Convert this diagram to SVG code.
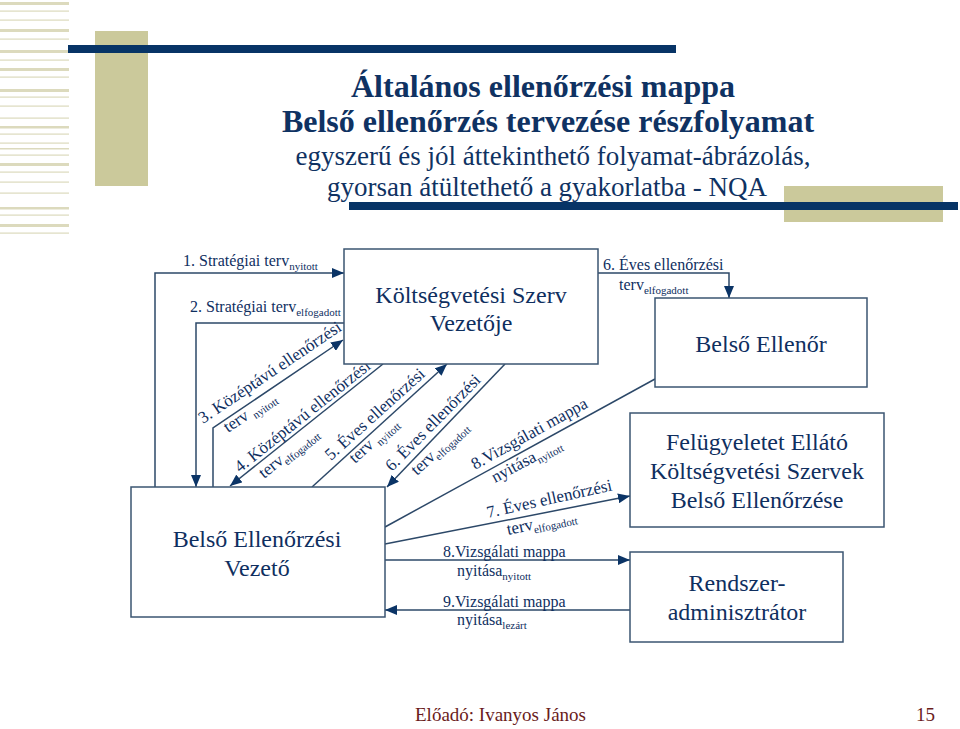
<svg xmlns="http://www.w3.org/2000/svg" width="960" height="729" viewBox="0 0 960 729">
<defs>
<marker id="ah" markerUnits="userSpaceOnUse" markerWidth="12" markerHeight="10" refX="12" refY="5" orient="auto">
<path d="M0,0 L12,5 L0,10 z" fill="#0b3466"/>
</marker>
<style>
.stripe{fill:#dcdabd}
.khaki{fill:#cbc99b}
.navy{fill:#073466}
.box{fill:#ffffff;stroke:#3b5572;stroke-width:1.5}
.boxt{font-family:"Liberation Serif",serif;font-size:24px;fill:#0f2f5f;text-anchor:middle}
.tb{font-family:"Liberation Serif",serif;font-weight:bold;font-size:32px;fill:#0f3262;text-anchor:middle}
.tr{font-family:"Liberation Serif",serif;font-size:27px;fill:#0f3262;text-anchor:middle}
.lbl{font-family:"Liberation Serif",serif;font-size:16px;fill:#0f2f5f}
.rl{font-family:"Liberation Serif",serif;font-size:17px;fill:#0f2f5f}
.sub{font-size:11px}
.con path{fill:none;stroke:#2c4868;stroke-width:1.5}
.foot{font-family:"Liberation Serif",serif;font-size:19px;fill:#6a1c1c}
</style>
</defs>
<rect width="960" height="729" fill="#ffffff"/>
<g id="decor">
<rect class="stripe" x="0" y="2" width="69" height="3"/>
<rect class="stripe" x="0" y="10.5" width="69" height="1.2"/>
<rect class="stripe" x="0" y="19.5" width="69" height="1.2"/>
<rect class="stripe" x="0" y="29" width="69" height="3"/>
<rect class="stripe" x="0" y="38.5" width="69" height="1.2"/>
<rect class="stripe" x="0" y="50" width="69" height="3"/>
<rect class="stripe" x="0" y="59.5" width="69" height="1.2"/>
<rect class="stripe" x="0" y="68" width="69" height="3"/>
<rect class="stripe" x="0" y="76.5" width="69" height="1.2"/>
<rect class="stripe" x="0" y="89" width="69" height="3"/>
<rect class="stripe" x="0" y="96.5" width="69" height="1.2"/>
<rect class="stripe" x="0" y="105.5" width="69" height="1.2"/>
<rect class="stripe" x="0" y="117.5" width="69" height="1.2"/>
<rect class="stripe" x="0" y="126" width="69" height="2.5"/>
<rect class="stripe" x="0" y="133.5" width="69" height="1.2"/>
<rect class="stripe" x="0" y="142.5" width="69" height="1.2"/>
<rect class="stripe" x="0" y="148" width="69" height="1.5"/>
<rect class="stripe" x="0" y="154.5" width="69" height="1.2"/>
<rect class="stripe" x="0" y="163" width="69" height="3"/>
<rect class="stripe" x="0" y="171.5" width="69" height="1.2"/>
<rect class="stripe" x="0" y="181.5" width="69" height="1.2"/>
<rect class="stripe" x="0" y="192.5" width="69" height="1.2"/>
<rect class="stripe" x="0" y="207" width="69" height="2.5"/>
<rect class="stripe" x="0" y="214.5" width="69" height="1.2"/>
<rect class="stripe" x="0" y="224" width="69" height="3"/>
<rect class="stripe" x="0" y="232.5" width="69" height="1.2"/>
<rect class="khaki" x="95" y="31" width="53" height="155"/>
<rect class="navy" x="68" y="45" width="608" height="8"/>
<rect class="khaki" x="784" y="186" width="159" height="36"/>
<rect class="navy" x="349" y="202" width="609" height="8"/>
</g>
<g id="title">
<text class="tb" x="543" y="97">Általános ellenőrzési mappa</text>
<text class="tb" x="548" y="132">Belső ellenőrzés tervezése részfolyamat</text>
<text class="tr" x="553" y="165">egyszerű és jól áttekinthető folyamat-ábrázolás,</text>
<text class="tr" x="547" y="196">gyorsan átültethető a gyakorlatba - NQA</text>
</g>
<g class="con" id="connectors">
<path d="M155,487 V273 H344" marker-end="url(#ah)"/>
<path d="M344,323 H196 V487" marker-end="url(#ah)"/>
<path d="M213,487 V428 L343,340" marker-end="url(#ah)"/>
<path d="M383,364 L230,486" marker-end="url(#ah)"/>
<path d="M312,487 L447,364" marker-end="url(#ah)"/>
<path d="M505,364 L387,487" marker-end="url(#ah)"/>
<path d="M385,544 L630,496" marker-end="url(#ah)"/>
<path d="M385,527 L655,379"/>
<path d="M385,560 H630" marker-end="url(#ah)"/>
<path d="M630,610 H385" marker-end="url(#ah)"/>
<path d="M598,273 H729 V298" marker-end="url(#ah)"/>
</g>
<g id="labels">
<text class="lbl" x="183" y="266">1. Stratégiai terv<tspan class="sub" dy="4">nyitott</tspan></text>
<text class="lbl" x="190" y="312">2. Stratégiai terv<tspan class="sub" dy="4">elfogadott</tspan></text>
<text class="rl" transform="translate(203,424) rotate(-34)">3. Középtávú ellenőrzési</text>
<text class="rl" transform="translate(228,433) rotate(-34)">terv <tspan class="sub" dy="4">nyitott</tspan></text>
<text class="rl" transform="translate(240,473) rotate(-38.6)">4. Középtávú ellenőrzési</text>
<text class="rl" transform="translate(264,479) rotate(-38.6)">terv<tspan class="sub" dy="4">elfogadott</tspan></text>
<text class="rl" transform="translate(331,461) rotate(-42)">5. Éves ellenőrzési</text>
<text class="rl" transform="translate(355,464) rotate(-42)">terv <tspan class="sub" dy="4">nyitott</tspan></text>
<text class="rl" transform="translate(392,472) rotate(-45.5)">6. Éves ellenőrzési</text>
<text class="rl" transform="translate(417,476) rotate(-43)">terv<tspan class="sub" dy="4">elfogadott</tspan></text>
<text class="rl" transform="translate(475,470) rotate(-29)">8.Vizsgálati mappa</text>
<text class="rl" transform="translate(495,483) rotate(-28)">nyitása<tspan class="sub" dy="4">nyitott</tspan></text>
<text class="rl" transform="translate(488,518) rotate(-12.5)">7. Éves ellenőrzési</text>
<text class="rl" transform="translate(508,535) rotate(-12)">terv<tspan class="sub" dy="4">elfogadott</tspan></text>
<text class="lbl" x="603" y="270">6. Éves ellenőrzési</text>
<text class="lbl" x="619" y="290">terv<tspan class="sub" dy="4">elfogadott</tspan></text>
<text class="lbl" x="443" y="557">8.Vizsgálati mappa</text>
<text class="lbl" x="457" y="576">nyitása<tspan class="sub" dy="4">nyitott</tspan></text>
<text class="lbl" x="443" y="607">9.Vizsgálati mappa</text>
<text class="lbl" x="457" y="625">nyitása<tspan class="sub" dy="4">lezárt</tspan></text>
</g>
<g id="node-kszv">
<rect class="box" x="344" y="249" width="254" height="115"/>
<text class="boxt" x="471" y="303">Költségvetési Szerv</text>
<text class="boxt" x="471" y="331">Vezetője</text>
</g>
<g id="node-bev">
<rect class="box" x="131" y="487" width="254" height="130"/>
<text class="boxt" x="257" y="547">Belső Ellenőrzési</text>
<text class="boxt" x="257" y="576">Vezető</text>
</g>
<g id="node-be">
<rect class="box" x="655" y="298" width="212" height="89"/>
<text class="boxt" x="761" y="352">Belső Ellenőr</text>
</g>
<g id="node-fkbe">
<rect class="box" x="630" y="413" width="254" height="114"/>
<text class="boxt" x="757" y="450">Felügyeletet Ellátó</text>
<text class="boxt" x="757" y="479">Költségvetési Szervek</text>
<text class="boxt" x="757" y="508">Belső Ellenőrzése</text>
</g>
<g id="node-rendszer">
<rect class="box" x="630" y="552" width="213" height="90"/>
<text class="boxt" x="737" y="591">Rendszer-</text>
<text class="boxt" x="737" y="620">adminisztrátor</text>
</g>
<g id="footer">
<text class="foot" x="415" y="721">Előadó: Ivanyos János</text>
<text class="foot" x="935" y="721" text-anchor="end" font-size="20">15</text>
</g>
</svg>
